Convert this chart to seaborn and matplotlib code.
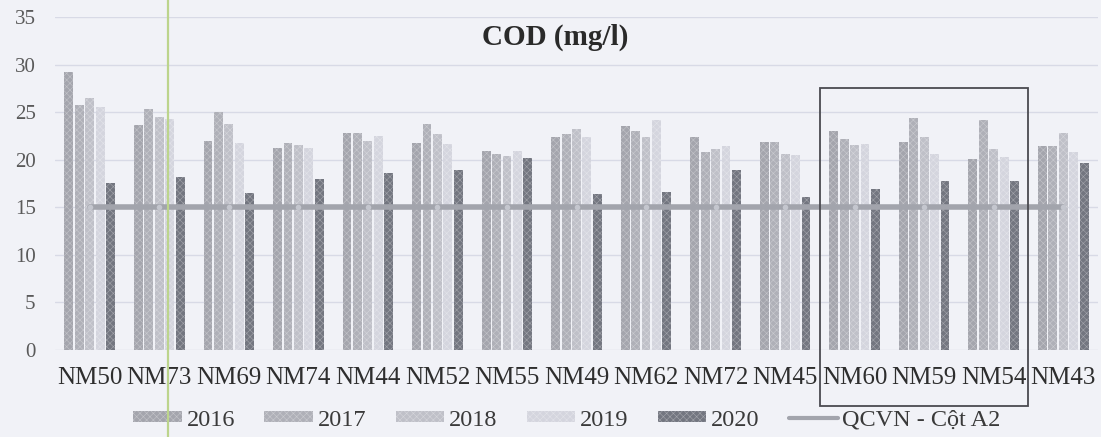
import numpy as np
import pandas as pd
import matplotlib
matplotlib.use("Agg")
import matplotlib.pyplot as plt
from matplotlib.patches import Patch, Rectangle
from matplotlib.lines import Line2D
import seaborn as sns

# Monitoring sites and COD readings (mg/l) per year
sites = ["NM50", "NM73", "NM69", "NM74", "NM44", "NM52", "NM55", "NM49",
         "NM62", "NM72", "NM45", "NM60", "NM59", "NM54", "NM43"]
years = ["2016", "2017", "2018", "2019", "2020"]
cod_2016 = [29.2, 23.6, 22.0, 21.2, 22.8, 21.8, 20.9, 22.4, 23.5, 22.4, 21.9, 23.0, 21.9, 20.1, 21.4]
cod_2017 = [25.8, 25.3, 25.0, 21.8, 22.8, 23.8, 20.6, 22.7, 23.0, 20.8, 21.9, 22.2, 24.4, 24.2, 21.4]
cod_2018 = [26.5, 24.5, 23.8, 21.5, 22.0, 22.7, 20.4, 23.2, 22.4, 21.1, 20.6, 21.5, 22.4, 21.1, 22.8]
cod_2019 = [25.5, 24.3, 21.8, 21.2, 22.5, 21.7, 20.9, 22.4, 24.2, 21.4, 20.5, 21.7, 20.6, 20.3, 20.8]
cod_2020 = [17.6, 18.2, 16.5, 18.0, 18.6, 18.9, 20.2, 16.4, 16.6, 18.9, 16.1, 16.9, 17.8, 17.8, 19.7]
qcvn_a2 = [15] * len(sites)
qcvn_label = "QCVN - Cột A2"
highlight_sites = ["NM60", "NM59", "NM54"]

series = [cod_2016, cod_2017, cod_2018, cod_2019, cod_2020]
df = pd.DataFrame({
    "site": np.tile(sites, len(years)),
    "year": np.repeat(years, len(sites)),
    "cod": np.concatenate(series),
})

bg = "#f1f2f7"
palette = {"2016": "#a4a5ad", "2017": "#afb0b8", "2018": "#bfc0c8",
           "2019": "#d4d5de", "2020": "#737680"}
line_color = "#a2a4ac"

sns.set_theme(style="white")
plt.rcParams["font.family"] = ["Liberation Serif", "DejaVu Serif"]
plt.rcParams["hatch.linewidth"] = 0.4

fig = plt.figure(figsize=(11.01, 4.37), dpi=100, facecolor=bg)
ax = fig.add_axes([55 / 1101, 1 - 350 / 437, (1098 - 55) / 1101, (350 - 17) / 437])
ax.set_facecolor(bg)

sns.barplot(data=df, x="site", y="cod", hue="year", order=sites, hue_order=years,
            palette=palette, width=0.75, gap=0.15, saturation=1, legend=False,
            ax=ax, zorder=2)

# Halftone-like texture on the bars
for p in ax.patches:
    p.set_hatch("xxxxx")
    p.set_edgecolor((1, 1, 1, 0.35))
    p.set_linewidth(0)

# Standard limit line
xpos = np.arange(len(sites))
ax.plot(xpos, qcvn_a2, color=line_color, lw=4, zorder=3,
        marker="o", markersize=4, markerfacecolor="#c4c6ce", markeredgewidth=0)

ax.set_ylim(0, 35)
ax.set_xlim(-0.5, len(sites) - 0.5)
ax.set_yticks(range(0, 36, 5))
ax.yaxis.grid(True, color="#d8dae6", lw=1)
ax.set_axisbelow(True)
for s in ax.spines.values():
    s.set_visible(False)
ax.set_xlabel("")
ax.set_ylabel("")
ax.tick_params(axis="y", labelsize=15, labelcolor="#5a5a5a", length=0, pad=14)
ax.tick_params(axis="x", labelsize=18, labelcolor="#2e2e2e", length=0, pad=12)

fig.text(555 / 1101, 1 - 37 / 437, "COD (mg/l)", ha="center", va="center",
         fontsize=21, fontweight="bold", color="#2a2a2a")

# Box around the highlighted sites
i0 = sites.index(highlight_sites[0]) - 0.5
i1 = sites.index(highlight_sites[-1]) + 0.5
box = Rectangle((i0, -5.9), i1 - i0, 33.4, fill=False, edgecolor="#4a4a50",
                lw=1.3, clip_on=False, zorder=5)
ax.add_patch(box)

handles = [Patch(facecolor=palette[y], hatch="xxxxx", edgecolor=(1, 1, 1, 0.35), lw=0, label=y)
           for y in years]
handles.append(Line2D([], [], color=line_color, lw=3, label=qcvn_label))
fig.legend(handles=handles, loc="center", bbox_to_anchor=(567 / 1101, 1 - 420 / 437), ncol=6,
           frameon=False, fontsize=17.5, handlelength=2.0, handleheight=0.3,
           columnspacing=1.2, handletextpad=0.2, labelcolor="#3a3a3a")

# Thin vertical scanner streak
fig.add_artist(Line2D([168 / 1101, 168 / 1101], [0, 1], transform=fig.transFigure,
                      color="#bcd48c", lw=1.6, zorder=10))

fig.savefig("out.png", dpi=100, facecolor=bg)
